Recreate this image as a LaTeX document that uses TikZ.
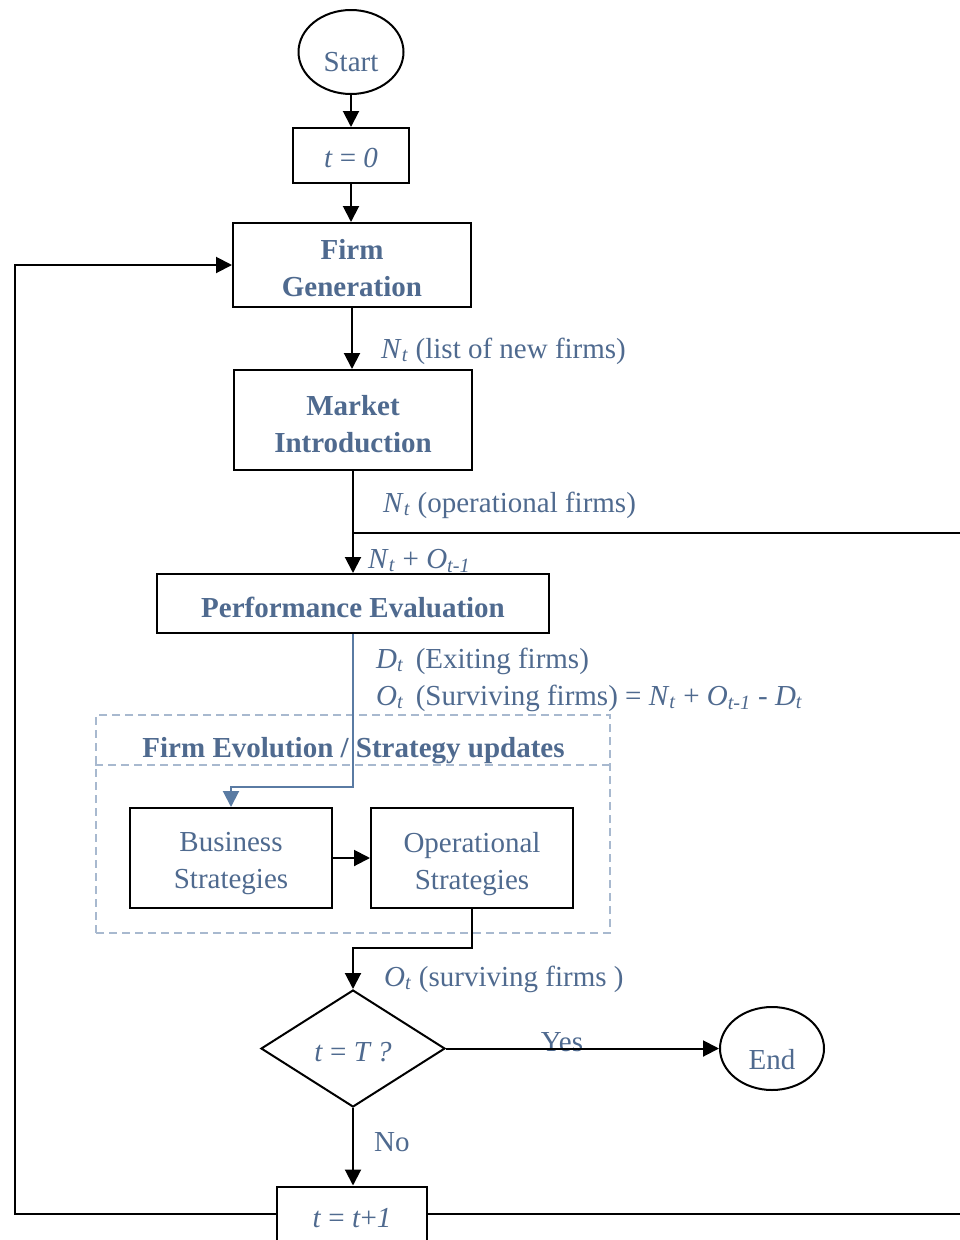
\documentclass[tikz,border=0pt]{standalone}
\usepackage{fontspec}
\setmainfont{Liberation Serif}
\usetikzlibrary{arrows.meta,shapes.geometric}
\definecolor{txt}{RGB}{79,106,143}
\definecolor{flowblue}{RGB}{90,123,163}
\definecolor{grpframe}{RGB}{168,185,207}
\newcommand{\vsub}[2]{\textit{#1}\textsubscript{\textit{#2}}}
\begin{document}
\begin{tikzpicture}[x=1pt,y=-1pt,
  every node/.style={font=\fontsize{29}{37}\selectfont, text=txt},
  box/.style={draw=black, line width=2pt, inner sep=0pt, align=center},
  oval/.style={box, ellipse},
  caption/.style={inner sep=0pt, align=center},
  bold/.style={font=\bfseries\fontsize{29}{37}\selectfont},
  lbl/.style={anchor=base west, inner sep=0pt},
  tip/.style={-{Triangle[length=16pt,width=16pt]}},
  link/.style={draw=black, line width=2pt, tip},
  bluelink/.style={draw=flowblue, line width=2pt, tip},
  wire/.style={draw=black, line width=2pt},
  grp/.style={draw=grpframe, line width=1.5pt, dash pattern=on 8pt off 5pt}]
\clip (0,0) rectangle (960,1240);
\fill[white] (0,0) rectangle (960,1240);

% main column: frames
\node[oval, minimum width=105, minimum height=84] (start) at (351,52) {};
\node[box, minimum width=116, minimum height=55] (t0) at (351,155.5) {};
\node[box, minimum width=238, minimum height=84] (fg) at (352,265) {};
\node[box, minimum width=238, minimum height=100] (mi) at (353,420) {};
\node[box, minimum width=392, minimum height=59] (pe) at (353,603.5) {};

% strategy group
\node[grp, minimum width=514, minimum height=218, inner sep=0pt] (evo) at (353,824) {};
\draw[grp] (evo.west |- 0,765) -- (evo.east |- 0,765);
\node[box, minimum width=202, minimum height=100] (bs) at (231,858) {};
\node[box, minimum width=202, minimum height=100] (os) at (472,858) {};

% decision, end and counter update
\node[box, diamond, aspect=1.57, minimum width=184, minimum height=117] (dec) at (353,1048.5) {};
\node[oval, minimum width=104, minimum height=83] (end) at (772,1048.5) {};
\node[box, minimum width=150, minimum height=55] (tt) at (352,1214) {};

% texts inside the frames
\node[caption] (starttxt) at (351,62) {Start};
\node[caption] (t0txt) at (351,158) {\textit{t} = \textit{0}};
\node[caption, bold] (fgtxt) at (352,268) {Firm\\Generation};
\node[caption, bold] (mitxt) at (353,424) {Market\\Introduction};
\node[caption, bold] (petxt) at (353,607) {Performance Evaluation};
\node[caption, bold, anchor=base] (evotitle) at (353.5,757) {Firm Evolution / Strategy updates};
\node[caption] (bstxt) at (231,864) {Business\\Strategies};
\node[caption] (ostxt) at (472,864) {Operational\\Strategies};
\node[caption] (dectxt) at (353,1052) {\textit{t} = \textit{T ?}};
\node[caption] (endtxt) at (772,1060) {End};
\node[caption] (tttxt) at (352,1218) {\textit{t} = \textit{t}+\textit{1}};

% flow labels
\node[lbl] (l1) at (381,358) {\vsub{N}{t} (list of new firms)};
\node[lbl] (l2) at (383,512) {\vsub{N}{t} (operational firms)};
\node[lbl] (l3) at (368,568) {\vsub{N}{t} + \vsub{O}{t-1}};
\node[lbl] (l4) at (376,668) {\vsub{D}{t}\, (Exiting firms)};
\node[lbl] (l5) at (376,705) {\vsub{O}{t}\, (Surviving firms) = \vsub{N}{t} + \vsub{O}{t-1} - \vsub{D}{t}};
\node[lbl] (l6) at (384,986) {\vsub{O}{t} (surviving firms )};
\node[caption, anchor=base] (yes) at (562,1051) {Yes};
\node[lbl] (no) at (374,1151) {No};

% junction points
\coordinate (join) at (353,533);
\coordinate (rloop) at (985,533);
\coordinate (lloop) at (15,265);
\coordinate (bend) at (353,787);
\coordinate (osb) at (472,948);

% connectors
\draw[link] (start.south) -- (t0.north);
\draw[link] (t0.south) -- (t0.south |- fg.north);
\draw[link] (fg.south) -- (fg.south |- mi.north);
\draw[link] (mi.south) -- (pe.north);
\draw[bluelink] (pe.south) -- (bend) -| (bs.north);
\draw[link] (bs.east) -- (os.west);
\draw[link] (os.south) -- (osb) -| (dec.north);
\draw[link] (dec.east) -- (end.west);
\draw[link] (dec.south) -- (dec.south |- tt.north);
\draw[link] (tt.west) -| (lloop) -- (fg.west);
\draw[wire] (tt.east) -| (rloop) -- (join);
\end{tikzpicture}
\end{document}
